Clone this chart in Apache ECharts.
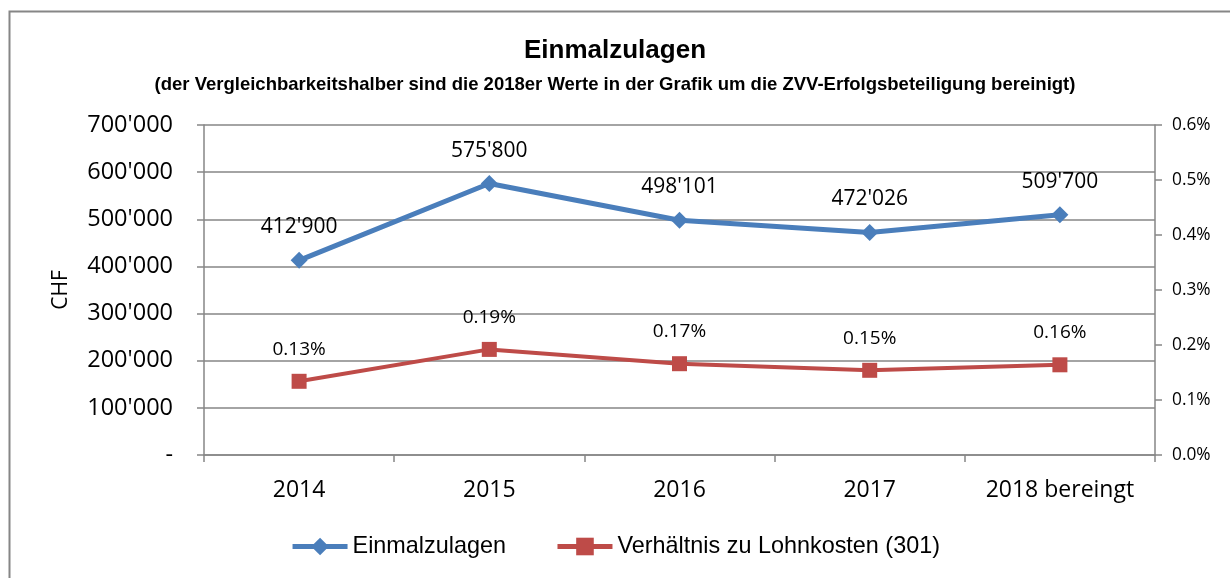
<!DOCTYPE html>
<html>
<head>
<meta charset="utf-8">
<script src="https://cdn.jsdelivr.net/npm/echarts@6/dist/echarts.min.js"></script>
<style>html,body{margin:0;padding:0;background:#fff}#c{width:1230px;height:578px}</style>
</head>
<body>
<div id="c"></div>
<script>
const categories = ['2014', '2015', '2016', '2017', '2018 bereingt'];
const einmalzulagen = [412900, 575800, 498101, 472026, 509700];
const verhaeltnis = [0.134, 0.192, 0.166, 0.154, 0.164]; // percent
const leftTicks = [0, 100000, 200000, 300000, 400000, 500000, 600000, 700000];
const rightTicks = [0, 0.1, 0.2, 0.3, 0.4, 0.5, 0.6];
const titleText = 'Einmalzulagen';
const subtitleText = '(der Vergleichbarkeitshalber sind die 2018er Werte in der Grafik um die ZVV-Erfolgsbeteiligung bereinigt)';
const seriesNames = ['Einmalzulagen', 'Verhältnis zu Lohnkosten (301)'];

function chf(v) {
  if (v === 0) return '-';
  return String(Math.round(v)).replace(/\B(?=(\d{3})+(?!\d))/g, "'");
}
const NUM = '"Open Sans", sans-serif';
const TXT = '"Liberation Sans", sans-serif';
const GRAY = '#868686';
const BLUE = '#4a7ebb';
const RED = '#be4b48';

const chart = echarts.init(document.getElementById('c'), null, {renderer: 'canvas'});
chart.setOption({
  animation: false,
  backgroundColor: '#fff',
  graphic: [{
    type: 'rect', left: 7, top: 9, silent: true,
    shape: {width: 1300, height: 700},
    style: {fill: 'none', stroke: GRAY, lineWidth: 2}
  }],
  title: {
    text: titleText, subtext: subtitleText, left: 'center', top: 33, itemGap: 11,
    textStyle: {fontFamily: TXT, fontWeight: 'bold', fontSize: 26, color: '#000'},
    subtextStyle: {fontFamily: TXT, fontWeight: 'bold', fontSize: 18.5, color: '#000'}
  },
  legend: {
    bottom: 15, left: 'center', itemWidth: 55, itemHeight: 22, itemGap: 49,
    textStyle: {fontFamily: TXT, fontSize: 23.4, color: '#000'},
    data: [
      {name: seriesNames[0], lineStyle: {width: 5}},
      {name: seriesNames[1], lineStyle: {width: 5}}
    ]
  },
  grid: {left: 204, right: 75, top: 125, bottom: 123, containLabel: false},
  xAxis: {
    type: 'category', data: categories, boundaryGap: true,
    axisLine: {lineStyle: {color: GRAY, width: 1.5}},
    axisTick: {show: true, interval: 0, length: 7, lineStyle: {color: GRAY, width: 1.5}},
    axisLabel: {interval: 0, fontFamily: NUM, fontSize: 23, color: '#000', margin: 24}
  },
  yAxis: [{
    type: 'value', min: 0, max: 700000, interval: 100000,
    name: 'CHF', nameLocation: 'middle', nameGap: 132, nameRotate: 90,
    nameTextStyle: {fontFamily: NUM, fontSize: 21, color: '#000'},
    axisLine: {show: true, lineStyle: {color: GRAY, width: 1.5}},
    axisTick: {show: true, length: 7, lineStyle: {color: GRAY, width: 1.5}},
    splitLine: {show: true, lineStyle: {color: GRAY, width: 1.5}},
    axisLabel: {fontFamily: NUM, fontSize: 23.5, color: '#000', margin: 31, formatter: chf}
  }, {
    type: 'value', min: 0, max: 0.6, interval: 0.1, position: 'right',
    axisLine: {show: true, lineStyle: {color: GRAY, width: 1.5}},
    axisTick: {show: true, length: 7, lineStyle: {color: GRAY, width: 1.5}},
    splitLine: {show: false},
    axisLabel: {fontFamily: NUM, fontSize: 17.3, color: '#000', margin: 17,
      formatter: v => v.toFixed(1) + '%'}
  }],
  series: [{
    name: seriesNames[0], type: 'line', yAxisIndex: 0, data: einmalzulagen,
    symbol: 'diamond', symbolSize: 17,
    lineStyle: {color: BLUE, width: 5},
    itemStyle: {color: BLUE},
    label: {show: true, position: 'top', distance: 14, fontFamily: NUM, fontSize: 21, color: '#000',
      formatter: p => chf(p.value)}
  }, {
    name: seriesNames[1], type: 'line', yAxisIndex: 1, data: verhaeltnis,
    symbol: 'rect', symbolSize: 15,
    lineStyle: {color: RED, width: 4},
    itemStyle: {color: RED},
    label: {show: true, position: 'top', distance: 15, fontFamily: NUM, fontSize: 19, color: '#000',
      formatter: p => p.value.toFixed(2) + '%'}
  }]
});
</script>
</body>
</html>
